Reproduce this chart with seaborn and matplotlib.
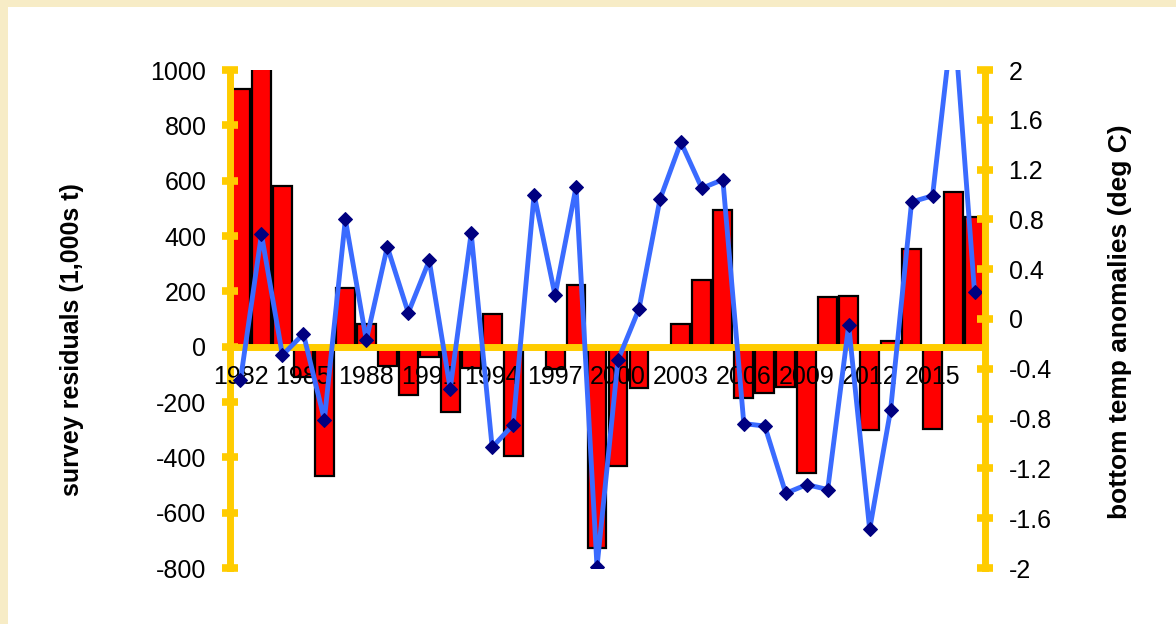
import numpy as np
import matplotlib
matplotlib.use("Agg")
import matplotlib.pyplot as plt
from matplotlib.patches import Rectangle
import seaborn as sns

# survey residuals (bars, left axis) and bottom temperature anomalies (line, right axis)
years = list(range(1982, 2018))
survey = [930, 1050, 581, -110, -467, 213, 82, -70, -175, -36, -235, -76,
          118, -394, 0, -80, 222, -727, -430, -150, 0, 82, 241, 494,
          -185, -168, -145, -457, 181, 184, -301, 22, 353, -297, 560, 470]
temp = [-0.49, 0.68, -0.29, -0.12, -0.81, 0.80, -0.17, 0.58, 0.05, 0.47, -0.56, 0.69,
        -1.03, -0.85, 1.00, 0.19, 1.06, -1.99, -0.33, 0.08, 0.96, 1.42, 1.05, 1.12,
        -0.84, -0.86, -1.40, -1.33, -1.37, -0.05, -1.69, -0.73, 0.94, 0.99, 2.47, 0.22]
left_ticks = [-800, -600, -400, -200, 0, 200, 400, 600, 800, 1000]
right_ticks = [-2, -1.6, -1.2, -0.8, -0.4, 0, 0.4, 0.8, 1.2, 1.6, 2]

sns.set_style("white")
plt.rcParams['font.family'] = ['Liberation Sans', 'DejaVu Sans']
plt.rcParams['axes.unicode_minus'] = False
plt.rcParams['text.color'] = 'black'
plt.rcParams['xtick.labelcolor'] = 'black'
plt.rcParams['ytick.labelcolor'] = 'black'

gold = '#FFCC00'
fig = plt.figure(figsize=(11.76, 6.24), dpi=100)
fig.patch.set_facecolor('#F7ECC6')
fig.add_artist(Rectangle((8 / 1176, 0), 1, 1 - 7 / 624, transform=fig.transFigure,
                         facecolor='white', edgecolor='none', zorder=-1))

ax = fig.add_axes([230 / 1176, 1 - 568 / 624, 755 / 1176, 498 / 624])
ax.patch.set_alpha(0)

labels = [str(y) for y in years]
sns.barplot(x=labels, y=survey, ax=ax, color='red', saturation=1,
            edgecolor='black', linewidth=1.6, width=0.9)
ax.set_axisbelow(False)
ax.set_xlim(-0.5, len(years) - 0.5)
ax.set_ylim(-800, 1000)
ax.set_yticks(left_ticks)
ax.set_yticklabels([str(t) for t in left_ticks])
ax.set_xlabel('')
ax.set_ylabel('')

ax.set_xticks(range(0, len(years), 3))
ax.set_xticklabels(labels[::3])
ax.set_xticks(np.arange(-0.5, len(years), 1), minor=True)
ax.tick_params(axis='x', which='major', length=0, pad=13, labelsize=18, labelcolor='black')
ax.tick_params(axis='x', which='minor', direction='inout', length=9.5, width=5.5, color=gold)
ax.tick_params(axis='y', direction='inout', length=12, width=5.5, color=gold,
               pad=11, labelsize=18, left=True, labelcolor='black')

for s in ['top', 'right']:
    ax.spines[s].set_visible(False)
ax.spines['left'].set_color(gold)
ax.spines['left'].set_linewidth(5)
ax.spines['bottom'].set_position(('data', 0))
ax.spines['bottom'].set_color(gold)
ax.spines['bottom'].set_linewidth(5)

ax2 = ax.twinx()
sns.lineplot(x=np.arange(len(years)), y=temp, ax=ax2, color='#3A6BFF', linewidth=3.5,
             marker='D', markersize=7.5, markerfacecolor='#000080', markeredgecolor='#000080')
ax2.set_ylim(-2, 2)
ax2.set_yticks(right_ticks)
ax2.set_yticklabels([f'{t:g}' for t in right_ticks])
ax2.tick_params(axis='y', direction='inout', length=12, width=5.5, color=gold,
                pad=11, labelsize=18, right=True, labelcolor='black')
ax2.set_ylabel('')
for s in ['top', 'bottom', 'left']:
    ax2.spines[s].set_visible(False)
ax2.spines['right'].set_color(gold)
ax2.spines['right'].set_linewidth(5)

fig.text(72 / 1176, 1 - 340 / 624, 'survey residuals (1,000s t)', rotation=90,
         ha='center', va='center', fontsize=18, fontweight='bold', color='black')
fig.text(1120 / 1176, 1 - 322 / 624, 'bottom temp anomalies (deg C)', rotation=90,
         ha='center', va='center', fontsize=19, fontweight='bold', color='black')

fig.savefig('out.png', dpi=100, facecolor=fig.get_facecolor())
